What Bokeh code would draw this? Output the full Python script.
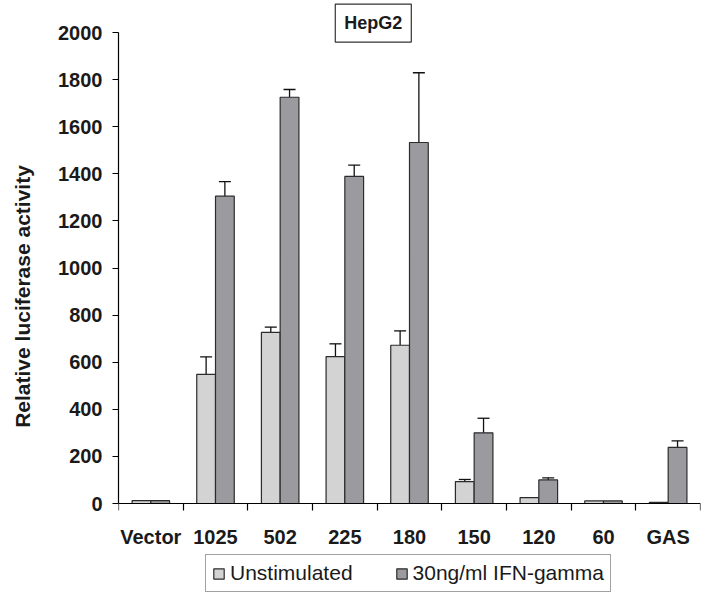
from bokeh.plotting import figure
from bokeh.models import (Range1d, FixedTicker, Whisker, TeeHead, ColumnDataSource,
                          Legend, LegendItem, Label)
from bokeh.embed import file_html
from bokeh.resources import INLINE

categories = ["Vector", "1025", "502", "225", "180", "150", "120", "60", "GAS"]
unstim = [12, 548, 727, 624, 672, 93, 25, 11, 5]
unstim_err = [0, 75, 22, 54, 61, 9, 0, 0, 0]
ifn = [12, 1305, 1725, 1389, 1533, 300, 100, 11, 238]
ifn_err = [0, 62, 33, 48, 296, 62, 9, 0, 28]
y_ticks = list(range(0, 2001, 200))
series_names = ["Unstimulated", "30ng/ml IFN-gamma"]

FONT = "Liberation Sans"
LIGHT = "#d3d3d3"
DARK = "#9b9b9f"
EDGE = "#2b2b2b"
BW = 0.29

# layout (pixels): figure size, frame left/right, where y=2000 and y=0 sit
W, H = 710, 592
LEFT, RIGHT = 118, 700
Y_TOP_PX, Y_ZERO_PX = 32, 503
Y_MAX = 2000
ppu = (Y_ZERO_PX - Y_TOP_PX) / Y_MAX
y_start = -(H - Y_ZERO_PX) / ppu
y_end = Y_MAX + Y_TOP_PX / ppu

n = len(categories)
centers = [i + 0.5 for i in range(n)]
x_light = [c - BW / 2 for c in centers]
x_dark = [c + BW / 2 for c in centers]

p = figure(width=W, height=H, output_backend="svg", toolbar_location=None,
           x_range=Range1d(0, n), y_range=Range1d(y_start, y_end),
           min_border_left=LEFT, min_border_right=W - RIGHT, min_border_top=0,
           min_border_bottom=0)
p.outline_line_color = None
p.xgrid.visible = False
p.ygrid.visible = False
p.background_fill_color = "white"
p.border_fill_color = "white"

r1 = p.vbar(x=x_light, top=unstim, width=BW, bottom=0, fill_color=LIGHT,
            line_color=EDGE, line_width=1.2)
r2 = p.vbar(x=x_dark, top=ifn, width=BW, bottom=0, fill_color=DARK,
            line_color=EDGE, line_width=1.2)

def add_err(xs, vals, errs):
    sel = [i for i in range(len(vals)) if errs[i] > 0]
    src = ColumnDataSource(dict(x=[xs[i] for i in sel],
                                lo=[vals[i] for i in sel],
                                hi=[vals[i] + errs[i] for i in sel]))
    w = Whisker(base="x", lower="lo", upper="hi", source=src,
                line_color="#111111", line_width=1.3,
                upper_head=TeeHead(size=12, line_color="#111111", line_width=1.3),
                lower_head=None)
    p.add_layout(w)

add_err(x_light, unstim, unstim_err)
add_err(x_dark, ifn, ifn_err)

# x axis sits at y = 0; labels at centers, tick marks at category boundaries
xa = p.xaxis[0]
xa.fixed_location = 0
xa.ticker = FixedTicker(ticks=centers, minor_ticks=list(range(n + 1)))
xa.major_label_overrides = {c: lab for c, lab in zip(centers, categories)}
xa.major_tick_out = 0
xa.major_tick_in = 0
xa.minor_tick_out = 7
xa.minor_tick_in = 0
xa.minor_tick_line_color = "black"
xa.minor_tick_line_width = 1.2
xa.axis_line_color = "black"
xa.axis_line_width = 1.2
xa.major_label_text_font = FONT
xa.major_label_text_font_style = "bold"
xa.major_label_text_font_size = "20px"
xa.major_label_text_color = "#1a1a1a"
xa.major_label_standoff = 15

ya = p.yaxis[0]
ya.bounds = (0, Y_MAX)
ya.ticker = FixedTicker(ticks=y_ticks)
ya.major_tick_out = 6
ya.major_tick_in = 0
ya.minor_tick_line_color = None
ya.axis_line_color = "black"
ya.axis_line_width = 1.2
ya.major_tick_line_width = 1.2
ya.major_label_text_font = FONT
ya.major_label_text_font_style = "bold"
ya.major_label_text_font_size = "20px"
ya.major_label_text_color = "#1a1a1a"
ya.major_label_standoff = 10
ya.axis_label = "Relative luciferase activity"
ya.axis_label_text_font = FONT
ya.axis_label_text_font_style = "bold"
ya.axis_label_text_font_size = "21px"
ya.axis_label_text_color = "#1a1a1a"
ya.axis_label_standoff = 21

title = Label(x=3.94, y=2040, text="HepG2", text_align="center",
              text_baseline="middle", text_font=FONT, text_font_style="bold",
              text_font_size="18px", text_color="#1a1a1a",
              border_line_color="#333333", border_line_width=1.2,
              background_fill_color="white", padding=9)
p.add_layout(title)

legend = Legend(items=[LegendItem(label=series_names[0], renderers=[r1]),
                       LegendItem(label=series_names[1], renderers=[r2])],
                orientation="horizontal", location=(87, 0),
                glyph_width=13, glyph_height=13, label_standoff=5, spacing=42,
                padding=6, margin=0, border_line_color="#444444",
                border_line_width=1, background_fill_color="white",
                background_fill_alpha=1.0,
                label_text_font=FONT, label_text_font_size="21px",
                label_text_color="#1a1a1a")
p.add_layout(legend, "center")

open("out.html", "w").write(file_html(p, INLINE))
